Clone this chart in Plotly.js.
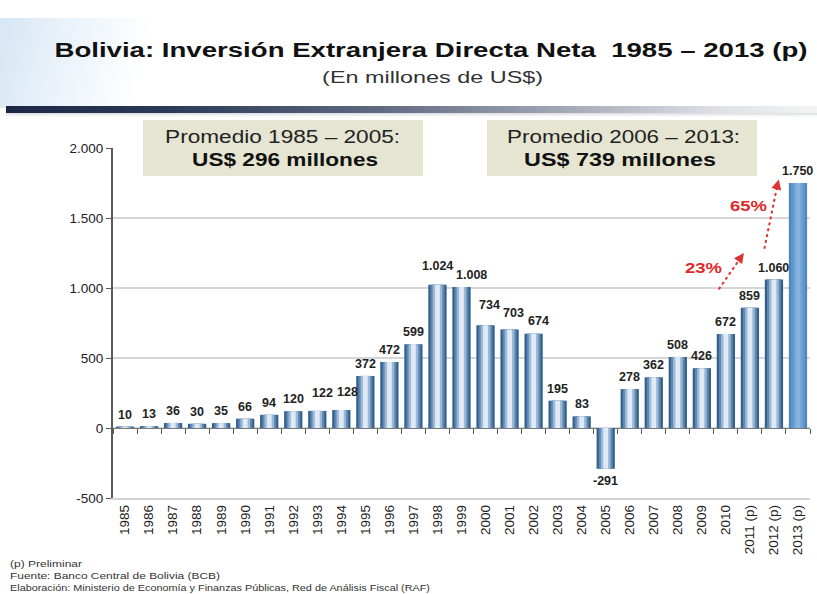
<!DOCTYPE html>
<html>
<head>
<meta charset="utf-8">
<script src="https://cdn.plot.ly/plotly-3.0.1.min.js"></script>
<style>
  html, body { margin:0; padding:0; background:#ffffff; }
  #wrap { position:relative; width:817px; height:594px; overflow:hidden; }
  #swoosh { position:absolute; left:0; top:18px; width:260px; height:90px;
    background: linear-gradient(105deg, #d6e6f4 0%, #e8f1f9 22%, rgba(255,255,255,0) 55%); }
  #band { position:absolute; left:6px; top:106px; width:811px; height:7px;
    background: linear-gradient(to right, #1b2745 0%, #2c3a58 20%, #5d6780 45%, #a6abb8 70%, #dfe1e6 88%, #f4f4f6 100%); }
  #shadow { position:absolute; left:6px; top:113px; width:811px; height:4px;
    background: linear-gradient(to bottom, rgba(150,155,170,0.35), rgba(255,255,255,0)); }
  #chart { position:absolute; left:0; top:0; width:817px; height:594px; }
</style>
</head>
<body>
<div id="wrap">
  <div id="swoosh"></div>
  <div id="band"></div>
  <div id="shadow"></div>
  <div id="chart"></div>
</div>
<script>
// ---- Data ----
const years = ['1985','1986','1987','1988','1989','1990','1991','1992','1993','1994',
  '1995','1996','1997','1998','1999','2000','2001','2002','2003','2004','2005',
  '2006','2007','2008','2009','2010','2011 (p)','2012 (p)','2013 (p)'];
const ied = [10,13,36,30,35,66,94,120,122,128,372,472,599,1024,1008,734,703,674,195,83,-291,
  278,362,508,426,672,859,1060,1750];
const yTicks = [-500,0,500,1000,1500,2000];
const avgLabels = ['Promedio 1985 – 2005:', 'US$ 296 millones', 'Promedio 2006 – 2013:', 'US$ 739 millones'];
const growthLabels = ['23%', '65%'];
const footLabels = ['(p) Preliminar', 'Fuente: Banco Central de Bolivia (BCB)',
  'Elaboración: Ministerio de Economía y Finanzas Públicas, Red de Análisis Fiscal (RAF)'];

// ---- Styles (gradient simulated with overlaid bars) ----
const layers = [
  {w:0.76, c:'#34608c', last:'#4f86be'},
  {w:0.58, c:'#5f87b1', last:'#5f95cc'},
  {w:0.40, c:'#9cb9d7', last:'#6ea2d6'},
  {w:0.20, c:'#dfeaf5', last:'#86b3e0'}
];
const n = ied.length;
const font = 'Liberation Sans, Arial, sans-serif';
const traces = layers.map((L) => ({
  type:'bar', x: years, y: ied, width: L.w,
  marker:{ color: ied.map((v,i)=> i===n-1 ? L.last : L.c), line:{width:0} },
  hoverinfo:'skip', showlegend:false
}));
// invisible trace for the zero-line tick axis
traces.push({type:'scatter', mode:'markers', x: years, y: ied, xaxis:'x2',
  marker:{opacity:0}, hoverinfo:'skip', showlegend:false});

const px = v => (v-113)/697;       // pixel x -> paper x
const py = v => (498-v)/350;       // pixel y -> paper y

// thousands separator '.', ASCII hyphen for negatives
function fmt(v) {
  const s = String(Math.abs(v)).replace(/\B(?=(\d{3})+(?!\d))/g, '.');
  return (v < 0 ? '-' : '') + s;
}
// small label nudges (pixels) to mimic the staggered labels of the original
const labelNudge = {8:[5,6], 9:[6,6], 13:[0,7], 14:[10,0], 15:[4,8], 16:[4,5], 17:[5,1]};

// category axis: annotation x given as the category's index (numeric-looking names would be read as indices)
const valueLabels = ied.map((v, i) => {
  const nd = labelNudge[i] || [0,0];
  return {text: fmt(v), xref:'x', yref:'y', x: years.indexOf(years[i]), y: v,
    xanchor:'center', yanchor: v < 0 ? 'top' : 'bottom',
    yshift: v < 0 ? -3 : 3 + nd[1], xshift: nd[0], showarrow:false,
    font:{family:font, size:12.5, color:'#222', weight:'bold'}};
});

function ann(text, x, y, size, opts) {
  return Object.assign({text:text, xref:'paper', yref:'paper', x:px(x), y:py(y),
    xanchor:'center', yanchor:'middle', showarrow:false,
    font:{family:font, size:size, color:'#222'}}, opts||{});
}

const annotations = [
  ann('(En millones de US$)', 432, 77, 16, {font:{family:font, size:16, color:'#333'}}),
  ann(avgLabels[0], 282, 137, 18),
  ann(avgLabels[1], 285, 160, 18, {font:{family:font, size:18, color:'#111', weight:'bold'}}),
  ann(avgLabels[2], 623, 137, 18),
  ann(avgLabels[3], 620, 160, 18, {font:{family:font, size:18, color:'#111', weight:'bold'}}),
  {text:growthLabels[0], xref:'x', yref:'y', x:24.05, y:1143, xanchor:'center', yanchor:'middle',
    showarrow:false, font:{family:font, size:15.5, color:'#e02a2a', weight:'bold'}},
  {text:growthLabels[1], xref:'x', yref:'y', x:25.95, y:1586, xanchor:'center', yanchor:'middle',
    showarrow:false, font:{family:font, size:15.5, color:'#e02a2a', weight:'bold'}},
  {text:'', xref:'x', yref:'y', x:25.75, y:1250, ax:-5, ay:7, showarrow:true,
    arrowhead:2, arrowsize:1, arrowwidth:2, arrowcolor:'#e03030'},
  {text:'', xref:'x', yref:'y', x:27.2, y:1775, ax:-2, ay:8, showarrow:true,
    arrowhead:2, arrowsize:1, arrowwidth:2, arrowcolor:'#e03030'},
  ann(footLabels[0], 8, 563, 9.5, {xanchor:'left', align:'left', font:{family:font, size:9.5, color:'#333'}}),
  ann(footLabels[1], 8, 575, 9.5, {xanchor:'left', align:'left', font:{family:font, size:9.5, color:'#333'}}),
  ann(footLabels[2], 8, 587, 9.5, {xanchor:'left', align:'left', font:{family:font, size:9.5, color:'#333'}})
].concat(valueLabels);
// desired rendered text widths (px) per annotation index, to match the reference's wide lettering
const stretchW = {0:221, 1:235, 2:186, 3:233, 4:192, 5:37, 6:37, 9:72, 10:210, 11:420};

const layout = {
  width:817, height:594,
  margin:{l:113, r:7, t:148, b:96},
  paper_bgcolor:'rgba(0,0,0,0)', plot_bgcolor:'rgba(0,0,0,0)',
  separators:',.',
  barmode:'overlay',
  font:{family:font, color:'#222'},
  title:{text:'Bolivia: Inversión Extranjera Directa Neta  1985 – 2013 (p)',
    x:431/817, xanchor:'center', y:1-50/594, yanchor:'middle', xref:'container', yref:'container',
    font:{family:font, size:20.5, color:'#111', weight:'bold'}},
  xaxis:{type:'category', range:[-0.5, n-0.5], tickangle:-90,
    tickfont:{family:font, size:13.5, color:'#222'},
    showgrid:false, zeroline:false, showline:true, linecolor:'#d4d4d4', linewidth:1.5,
    ticks:'', fixedrange:true},
  xaxis2:{type:'category', range:[-0.5, n-0.5], overlaying:'x', anchor:'free',
    position:0.2, showticklabels:false, showgrid:false, zeroline:false,
    showline:true, linecolor:'#7a7a7a', linewidth:1.3,
    ticks:'outside', ticklen:5, tickcolor:'#555', tickson:'boundaries', layer:'below traces'},
  yaxis:{range:[-500, 2000], tickvals:yTicks, ticktext:yTicks.map(fmt),
    tickfont:{family:font, size:13.5, color:'#222'},
    showgrid:true, gridcolor:'#d6d6d6', gridwidth:1.2, zeroline:false,
    showline:true, linecolor:'#5a5a5a', linewidth:2,
    ticks:'outside', ticklen:5, tickcolor:'#5a5a5a'},
  shapes:[
    {type:'rect', xref:'paper', yref:'paper', x0:px(143), x1:px(423),
      y0:py(176), y1:py(120), fillcolor:'#e5e5d2', line:{width:0}, layer:'below'},
    {type:'rect', xref:'paper', yref:'paper', x0:px(487), x1:px(757),
      y0:py(176), y1:py(120), fillcolor:'#e5e5d2', line:{width:0}, layer:'below'},
    {type:'line', xref:'x', yref:'y', x0:24.7, y0:990, x1:25.65, y1:1225,
      line:{color:'#e03030', width:2, dash:'dot'}},
    {type:'line', xref:'x', yref:'y', x0:26.6, y0:1280, x1:27.15, y1:1740,
      line:{color:'#e03030', width:2, dash:'dot'}}
  ],
  annotations: annotations
};

function setLen(el, w) {
  if (!el) return;
  el.setAttribute('textLength', w);
  el.setAttribute('lengthAdjust', 'spacingAndGlyphs');
}

Plotly.newPlot('chart', traces, layout, {displayModeBar:false, staticPlot:true}).then(gd => {
  setLen(gd.querySelector('.gtitle'), 753);
  Object.keys(stretchW).forEach(i => {
    const g = gd.querySelector('.annotation[data-index="' + i + '"] text.annotation-text');
    setLen(g, stretchW[i]);
  });
});
</script>
</body>
</html>
